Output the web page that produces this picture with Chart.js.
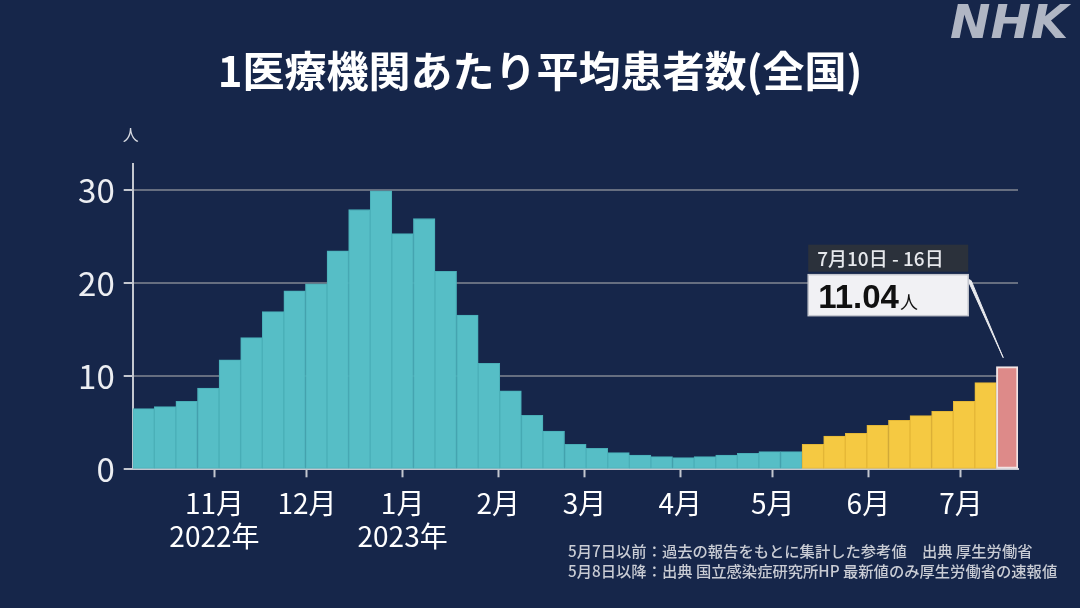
<!DOCTYPE html>
<html lang="ja">
<head>
    <meta charset="UTF-8">
    <title>1医療機関あたり平均患者数(全国)</title>
    <script src="https://cdn.jsdelivr.net/npm/chart.js"></script>
    <style>
        html, body { margin: 0; padding: 0; background: #16264a; }
        #wrap { width: 1080px; height: 608px; position: relative; }
    </style>
</head>
<body>
    <div id="wrap">
        <canvas id="patientsChart"></canvas>
    </div>

    <script>
        // week end dates (Sunday) for each weekly bar
        const weekEnds = [
            '2022-10-09', '2022-10-16', '2022-10-23', '2022-10-30',
            '2022-11-06', '2022-11-13', '2022-11-20', '2022-11-27',
            '2022-12-04', '2022-12-11', '2022-12-18', '2022-12-25',
            '2023-01-01', '2023-01-08', '2023-01-15', '2023-01-22', '2023-01-29',
            '2023-02-05', '2023-02-12', '2023-02-19', '2023-02-26',
            '2023-03-05', '2023-03-12', '2023-03-19', '2023-03-26',
            '2023-04-02', '2023-04-09', '2023-04-16', '2023-04-23', '2023-04-30',
            '2023-05-07', '2023-05-14', '2023-05-21', '2023-05-28',
            '2023-06-04', '2023-06-11', '2023-06-18', '2023-06-25',
            '2023-07-02', '2023-07-09', '2023-07-16'
        ];

        // patients per medical institution
        const patients = [
            6.52, 6.74, 7.30, 8.75,
            11.77, 14.17, 16.97, 19.20,
            19.95, 23.50, 27.95, 29.96,
            25.36, 26.98, 21.30, 16.60, 11.40,
            8.43, 5.81, 4.12, 2.69,
            2.26, 1.79, 1.54, 1.36,
            1.25, 1.36, 1.54, 1.72, 1.90,
            1.90, 2.69, 3.58, 3.87,
            4.73, 5.27, 5.77, 6.24,
            7.32, 9.32, 11.04
        ];

        const lastReferenceWeek = '2023-05-07'; // up to here: past reports (reference values)

        const monthTicks = ['2022-11-01', '2022-12-01', '2023-01-01', '2023-02-01', '2023-03-01',
                            '2023-04-01', '2023-05-01', '2023-06-01', '2023-07-01'];
        const monthLabels = ['11月', '12月', '1月', '2月', '3月', '4月', '5月', '6月', '7月'];
        const yearLabels = ['2022年', '', '2023年', '', '', '', '', '', ''];

        const yTicks = [0, 10, 20, 30];

        const footnotes = [
            '5月7日以前：過去の報告をもとに集計した参考値　出典 厚生労働省',
            '5月8日以降：出典 国立感染症研究所HP 最新値のみ厚生労働省の速報値'
        ];

        const TEAL = '#56bec6', TEAL_EDGE = '#4aafb8';
        const YELLOW = '#f5c942', YELLOW_EDGE = '#e4b737';
        const PINK = '#dd8a89', PINK_EDGE = '#f2e4e4';
        const JP = '"Noto Sans CJK JP", "Noto Sans", sans-serif';

        function dayNum(s) {
            return (Date.parse(s) - Date.parse('2022-10-01')) / 86400000;
        }

        const points = weekEnds.map((d, i) => ({ x: dayNum(d), y: patients[i] }));
        const lastIdx = patients.length - 1;
        const fills = weekEnds.map((d, i) => i === lastIdx ? PINK : (d <= lastReferenceWeek ? TEAL : YELLOW));
        const edges = weekEnds.map((d, i) => i === lastIdx ? PINK_EDGE : (d <= lastReferenceWeek ? TEAL_EDGE : YELLOW_EDGE));
        const edgeWidths = weekEnds.map((d, i) => i === lastIdx ? 2 : 1);

        // extra drawing: unit, logo, callout box, footnotes
        const decorations = {
            id: 'decorations',
            afterDraw(chart) {
                const ctx = chart.ctx;
                const yScale = chart.scales.y;
                ctx.save();

                // unit label above the y axis
                ctx.fillStyle = '#d8dbe2';
                ctx.font = '16px ' + JP;
                ctx.textAlign = 'center';
                ctx.textBaseline = 'middle';
                ctx.fillText('人', yScale.right - 2, 135);

                // NHK logo
                ctx.save();
                ctx.fillStyle = '#b0b6c4';
                ctx.font = 'bold oblique 46px "DejaVu Sans"';
                ctx.textAlign = 'left';
                ctx.textBaseline = 'alphabetic';
                ctx.translate(950, 38);
                ctx.scale(1.05, 1);
                ctx.fillText('NHK', 0, 0);
                ctx.restore();

                // callout for the latest week
                const bar = chart.getDatasetMeta(0).data[lastIdx];
                const boxRight = bar.x - 39;
                const boxLeft = boxRight - 160;
                const headTop = bar.y - 122;
                const headH = 27;
                const valTop = headTop + headH + 3;
                const valH = 41;

                ctx.fillStyle = '#e9eaee';
                ctx.strokeStyle = '#e9eaee';
                ctx.lineWidth = 1;
                ctx.beginPath();
                ctx.moveTo(boxRight - 1, valTop + 4);
                ctx.lineTo(boxRight + 3, valTop + 6);
                ctx.lineTo(bar.x - 4, bar.y - 9);
                ctx.closePath();
                ctx.fill();
                ctx.stroke();

                ctx.fillStyle = '#2b313b';
                ctx.fillRect(boxLeft, headTop, 160, headH);
                const end = new Date(Date.parse(weekEnds[lastIdx]));
                const start = new Date(end.getTime() - 6 * 86400000);
                const range = (start.getUTCMonth() + 1) + '月' + start.getUTCDate() + '日 - ' + end.getUTCDate() + '日';
                ctx.fillStyle = '#e6e8ec';
                ctx.font = '500 19px ' + JP;
                ctx.textAlign = 'left';
                ctx.textBaseline = 'middle';
                ctx.fillText(range, boxLeft + 9, headTop + headH / 2 + 1);

                ctx.fillStyle = '#f1f1f4';
                ctx.fillRect(boxLeft, valTop, 160, valH);
                ctx.strokeStyle = '#c4c6ce';
                ctx.lineWidth = 1.5;
                ctx.strokeRect(boxLeft, valTop, 160, valH);

                ctx.fillStyle = '#111111';
                ctx.font = 'bold 33px "Liberation Sans", sans-serif';
                ctx.textBaseline = 'alphabetic';
                const valText = patients[lastIdx].toFixed(2);
                ctx.fillText(valText, boxLeft + 10, valTop + 33);
                const w = ctx.measureText(valText).width;
                ctx.font = '18px ' + JP;
                ctx.fillText('人', boxLeft + 10 + w + 1, valTop + 34);

                // footnotes
                ctx.fillStyle = '#c9ccd4';
                ctx.font = '500 15.3px ' + JP;
                ctx.textBaseline = 'middle';
                footnotes.forEach((t, i) => ctx.fillText(t, 568, 551 + i * 20));

                ctx.restore();
            }
        };

        new Chart(document.getElementById('patientsChart'), {
            type: 'bar',
            data: {
                datasets: [{
                    data: points,
                    backgroundColor: fills,
                    borderColor: edges,
                    borderWidth: edgeWidths,
                    borderSkipped: false,
                    barPercentage: 1.0,
                    categoryPercentage: 1.0
                }]
            },
            options: {
                responsive: true,
                maintainAspectRatio: false,
                animation: false,
                layout: { padding: { left: 62, right: 62, top: 0, bottom: 0 } },
                plugins: {
                    legend: { display: false },
                    tooltip: { enabled: false },
                    title: {
                        display: true,
                        text: '1医療機関あたり平均患者数(全国)',
                        color: '#ffffff',
                        font: { family: JP, size: 42, weight: 'bold', lineHeight: 1.2 },
                        padding: { top: 46, bottom: 68 }
                    }
                },
                scales: {
                    x: {
                        type: 'linear',
                        offset: false,
                        bounds: 'data',
                        min: dayNum(weekEnds[0]) - 3.5,
                        max: dayNum(weekEnds[lastIdx]) + 3.5,
                        afterBuildTicks(scale) {
                            scale.ticks = monthTicks.map(d => ({ value: dayNum(d) }));
                        },
                        afterFit(scale) { scale.height = 138.7; },
                        grid: {
                            offset: false,
                            drawOnChartArea: false,
                            drawTicks: true,
                            tickLength: 8,
                            tickColor: '#c3c7cf',
                            tickWidth: 2
                        },
                        border: { display: true, color: '#c3c7cf', width: 2 },
                        ticks: {
                            autoSkip: false,
                            maxRotation: 0,
                            padding: 9,
                            color: '#ffffff',
                            font: { family: JP, size: 28, lineHeight: 1.2 },
                            callback(value, index) {
                                return yearLabels[index] ? [monthLabels[index], yearLabels[index]] : monthLabels[index];
                            }
                        }
                    },
                    y: {
                        bounds: 'data',
                        min: 0,
                        max: 32.8,
                        afterBuildTicks(scale) {
                            scale.ticks = yTicks.map(v => ({ value: v }));
                        },
                        afterFit(scale) { scale.width = 70.7; },
                        grid: {
                            color: '#666e80',
                            lineWidth: 2,
                            drawTicks: true,
                            tickLength: 9,
                            tickColor: '#c3c7cf',
                            tickWidth: 2
                        },
                        border: { display: true, color: '#c3c7cf', width: 2 },
                        ticks: {
                            padding: 9,
                            color: '#eceef2',
                            font: { family: JP, size: 33 }
                        }
                    }
                }
            },
            plugins: [decorations]
        });
    </script>
</body>
</html>
